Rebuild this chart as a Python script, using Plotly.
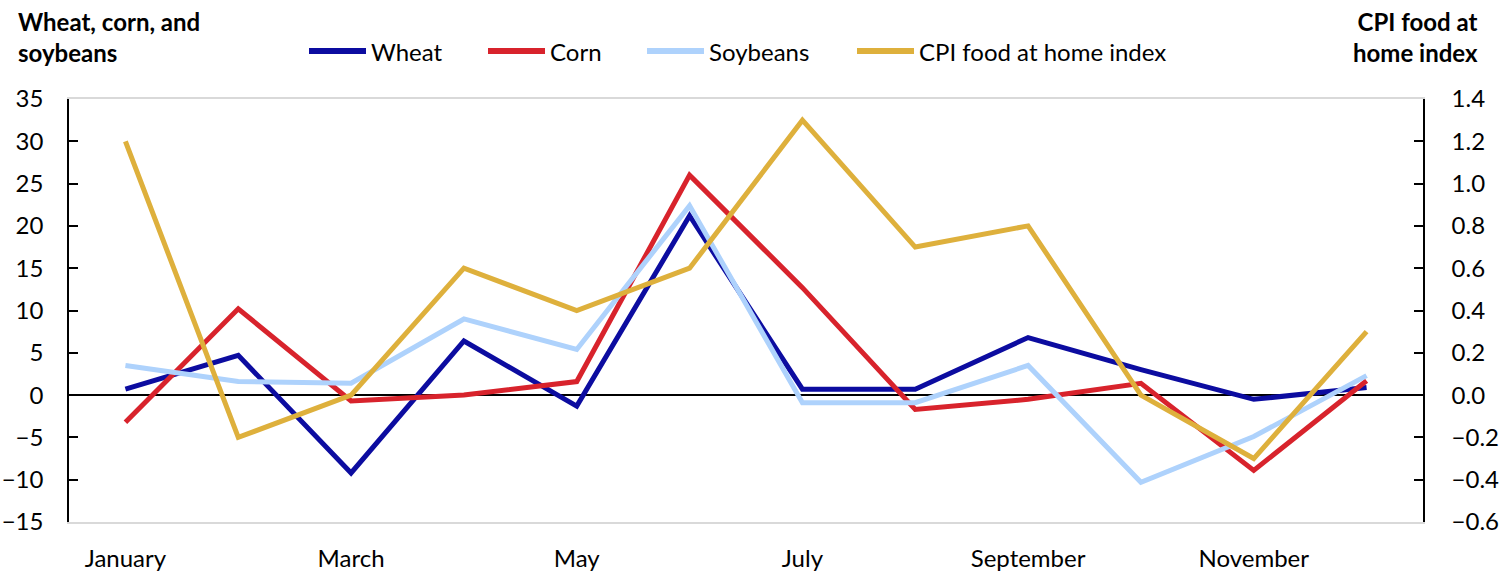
import plotly.graph_objects as go

months = ["January", "February", "March", "April", "May", "June",
          "July", "August", "September", "October", "November", "December"]

wheat = [0.7, 4.7, -9.2, 6.4, -1.3, 21.2, 0.7, 0.7, 6.8, 3.0, -0.5, 0.9]
corn = [-3.2, 10.2, -0.7, 0.0, 1.6, 26.0, 12.7, -1.7, -0.5, 1.4, -8.9, 1.7]
soybeans = [3.5, 1.6, 1.4, 9.0, 5.4, 22.4, -0.9, -0.9, 3.5, -10.3, -4.9, 2.3]
cpi_food_home = [1.2, -0.2, 0.0, 0.6, 0.4, 0.6, 1.3, 0.7, 0.8, 0.0, -0.3, 0.3]

left_ticks = list(range(-15, 36, 5))
right_ticks = [round(-0.6 + 0.2 * i, 1) for i in range(11)]

FONT = "Lato, Carlito, Calibri, sans-serif"
W, H = 1505, 572
ML, MR, MT, MB = 69, 82, 99, 50
PW, PH = W - ML - MR, H - MT - MB


def px_x(px):
    """Pixel column -> paper x fraction."""
    return (px - ML) / PW


def px_y(py):
    """Pixel row -> paper y fraction."""
    return (H - MB - py) / PH


series = [
    ("Wheat", wheat, "#0c0ca0", "y"),
    ("Corn", corn, "#d8232c", "y"),
    ("Soybeans", soybeans, "#aed2fc", "y"),
    ("CPI food at home index", cpi_food_home, "#deb03c", "y2"),
]

fig = go.Figure()
for name, vals, color, ax in series:
    fig.add_trace(go.Scatter(
        x=months, y=vals, name=name, mode="lines", yaxis=ax,
        line=dict(color=color, width=5), showlegend=False,
    ))

# Legend row across the top: swatch line followed by its label
legend_starts = [309, 488, 647, 857]
swatch_len = 57
shapes, annotations = [], []
for (name, _, color, _), x0 in zip(series, legend_starts):
    shapes.append(dict(
        type="line", xref="paper", yref="paper",
        x0=px_x(x0), x1=px_x(x0 + swatch_len), y0=px_y(51), y1=px_y(51),
        line=dict(color=color, width=6), layer="above",
    ))
    annotations.append(dict(
        text=name, xref="paper", yref="paper",
        x=px_x(x0 + swatch_len + 3), y=px_y(51), xanchor="left", yanchor="middle",
        showarrow=False, font=dict(size=24),
    ))

annotations += [
    dict(text="<b>Wheat, corn, and<br>soybeans</b>", xref="paper", yref="paper",
         x=px_x(16), y=px_y(5), xanchor="left", yanchor="top", align="left",
         showarrow=False, font=dict(size=24)),
    dict(text="<b>CPI food at<br>home index</b>", xref="paper", yref="paper",
         x=px_x(1480), y=px_y(5), xanchor="right", yanchor="top", align="right",
         showarrow=False, font=dict(size=24)),
]

fig.update_layout(
    width=W, height=H,
    margin=dict(l=ML, r=MR, t=MT, b=MB),
    plot_bgcolor="white", paper_bgcolor="white",
    font=dict(family=FONT, size=24, color="black"),
    showlegend=False,
    shapes=shapes,
    annotations=annotations,
    xaxis=dict(
        type="category", categoryorder="array", categoryarray=months,
        range=[-0.5, 11.5], tickvals=months[::2], ticktext=months[::2],
        showgrid=False, showline=True, linecolor="#d9d9d9", linewidth=1.5, mirror=True,
        ticks="", ticklabelstandoff=14, tickfont=dict(size=24), automargin=False,
    ),
    yaxis=dict(
        range=[-15, 35], tickvals=left_ticks, showgrid=False,
        showline=True, linecolor="black", linewidth=1.5,
        ticks="inside", ticklen=9, tickwidth=1.5, tickcolor="black",
        zeroline=True, zerolinecolor="black", zerolinewidth=1.5,
        ticklabelstandoff=19, tickfont=dict(size=24), automargin=False,
    ),
    yaxis2=dict(
        overlaying="y", side="right", range=[-0.6, 1.4], tickvals=right_ticks,
        tickformat=".1f", showgrid=False, zeroline=False,
        showline=True, linecolor="black", linewidth=1.5,
        ticks="inside", ticklen=9, tickwidth=1.5, tickcolor="black",
        ticklabelstandoff=22, tickfont=dict(size=24), automargin=False,
    ),
)

fig.write_html("out.html")
